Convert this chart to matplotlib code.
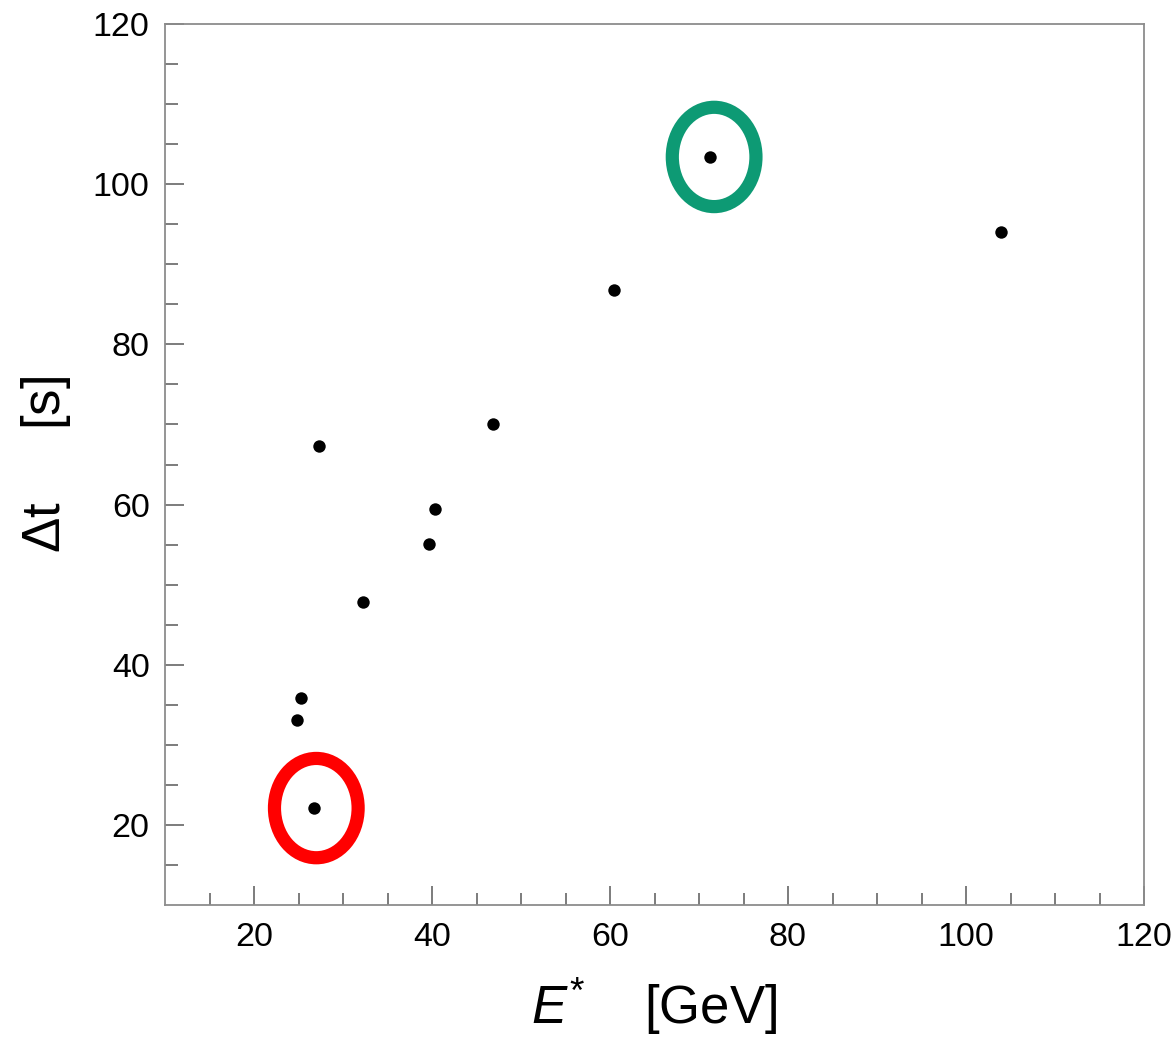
import matplotlib.pyplot as plt
from matplotlib.patches import Ellipse

plt.rcParams["font.family"] = ["Liberation Sans", "DejaVu Sans"]
plt.rcParams["mathtext.fontset"] = "custom"
plt.rcParams["mathtext.rm"] = "Liberation Sans"
plt.rcParams["mathtext.it"] = "Liberation Sans:italic"

# E* [GeV] vs delay [s]
energy = [26.7, 24.8, 25.3, 27.3, 32.3, 39.7, 40.3, 46.9, 60.5, 71.2, 103.9]
delay = [22.1, 33.1, 35.9, 67.3, 47.8, 55.1, 59.5, 70.1, 86.8, 103.4, 94.0]

# highlighted events: (x, y, colour)
marked_x = [27.0, 71.7]
marked_y = [22.1, 103.4]
marked_colors = ["#ff0000", "#0d9a74"]

fig = plt.figure(figsize=(11.74, 10.37), dpi=100)
ax = fig.add_axes([165 / 1174, 1 - 905 / 1037, 979 / 1174, 881 / 1037])

ax.scatter(energy, delay, s=80, c="black", zorder=3, linewidths=0)

for x, y, c in zip(marked_x, marked_y, marked_colors):
    ax.add_patch(Ellipse((x, y), width=9.4, height=12.4, fill=False,
                         edgecolor=c, lw=9.5, zorder=4))

ax.set_xlim(10, 120)
ax.set_ylim(10, 120)
ax.set_xticks(range(20, 121, 20))
ax.set_xticks(range(15, 120, 5), minor=True)
ax.set_yticks(range(20, 121, 20))
ax.set_yticks(range(15, 120, 5), minor=True)

for s in ax.spines.values():
    s.set_color("#8c8c8c")
    s.set_linewidth(1.3)

ax.tick_params(which="both", direction="in", color="#666666", width=1.2,
               top=False, right=False, labelsize=24.5)
ax.tick_params(which="major", length=14, pad=12)
ax.tick_params(which="minor", length=9)
ax.tick_params(axis="y", which="major", pad=11)

ax.set_xlabel(r"$E^{*}$    [GeV]", fontsize=38, labelpad=17)
ax.set_ylabel(r"$\Delta$t     [s]", fontsize=38, labelpad=14)

fig.savefig("out.png", dpi=100)
